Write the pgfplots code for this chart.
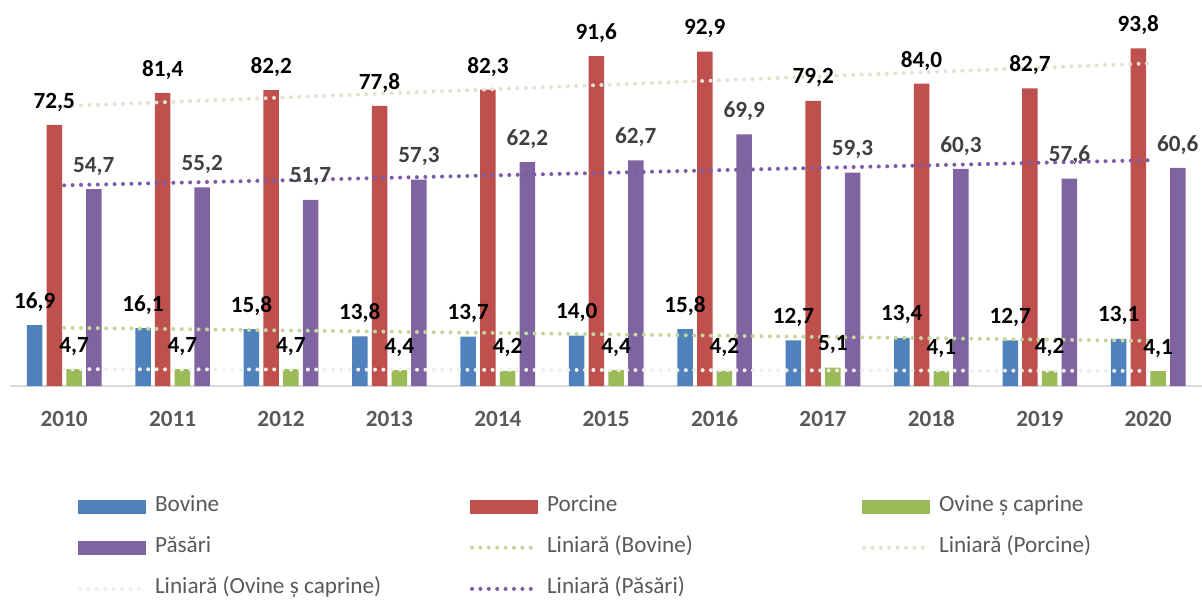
\documentclass[border=0pt]{standalone}
\usepackage{fontspec}
\setmainfont{Carlito}
\usepackage{pgfplots}
\pgfplotsset{compat=1.18}
\definecolor{cBov}{HTML}{4F81BD}
\definecolor{cPor}{HTML}{C0504D}
\definecolor{cOvi}{HTML}{9BBB59}
\definecolor{cPas}{HTML}{8064A2}
\definecolor{tBov}{HTML}{C3D69B}
\definecolor{tPor}{HTML}{E4E1D0}
\definecolor{tOvi}{HTML}{F0F0EA}
\definecolor{tPas}{HTML}{7A5CA8}
\definecolor{labgray}{HTML}{595959}
\definecolor{pasgray}{HTML}{404040}
\definecolor{axgray}{HTML}{D9D9D9}
\pgfplotsset{
  mybar/.style={ybar, draw=none, fill=#1, bar width=0.143,
    legend image code/.code={\fill[#1] (0pt,-3.5pt) rectangle (34pt,3.5pt);}},
  trend/.style={sharp plot, no marks, draw=#1, line width=2pt, line cap=round,
    dash pattern=on 0pt off 4.2pt,
    legend image code/.code={\draw[#1, line width=2pt, line cap=round, dash pattern=on 0pt off 4.2pt] (1pt,0pt) -- (34pt,0pt);}},
  lab/.style={nodes near coords,
    every node near coord/.append style={font=\bfseries, text=#1, anchor=center, yshift=11.5pt}},
}
\begin{document}
\fontsize{11.6}{14}\selectfont
\begin{tikzpicture}
\begin{axis}[
  scale only axis, width=596.2pt, height=189pt,
  xmin=-0.5, xmax=10.5, ymin=0, ymax=105,
  axis y line=none, axis x line*=bottom,
  x axis line style={draw=axgray, line width=1pt, -},
  xtick={0,1,2,3,4,5,6,7,8,9,10},
  xticklabels={2010,2011,2012,2013,2014,2015,2016,2017,2018,2019,2020},
  major tick length=0pt,
  xticklabel style={anchor=center, yshift=-16.5pt, font=\bfseries, text=labgray},
  clip=false,
  /pgf/number format/.cd, use comma, fixed, fixed zerofill, precision=1, assume math mode=true, /pgfplots/.cd,
  legend columns=3,
  legend cell align=left,
  legend style={at={(0,0)}, anchor=north west, xshift=34pt, yshift=-54.75pt,
    draw=none, fill=none, inner sep=0pt, outer sep=0pt, row sep=9.6pt,
    nodes={inner sep=0pt, anchor=west, text height=8pt, text depth=3pt, text=labgray},
    /tikz/every odd column/.append style={column sep=3.5pt}},
]
\addplot[mybar=cBov, bar shift=-14.78pt, lab=black,
  every node near coord/.append style={xshift=-14.78pt}]
  coordinates {(0,16.9) (1,16.1) (2,15.8) (3,13.8) (4,13.7) (5,14.0) (6,15.8) (7,12.7) (8,13.4) (9,12.7) (10,13.1)};
\addlegendentry{\makebox[157.5pt][l]{Bovine}}
\addplot[mybar=cPor, bar shift=-4.93pt, lab=black,
  every node near coord/.append style={xshift=-4.93pt}]
  coordinates {(0,72.5) (1,81.4) (2,82.2) (3,77.8) (4,82.3) (5,91.6) (6,92.9) (7,79.2) (8,84.0) (9,82.7) (10,93.8)};
\addlegendentry{\makebox[157.5pt][l]{Porcine}}
\addplot[mybar=cOvi, bar shift=4.93pt, lab=black,
  every node near coord/.append style={xshift=4.93pt}]
  coordinates {(0,4.7) (1,4.7) (2,4.7) (3,4.4) (4,4.2) (5,4.4) (6,4.2) (7,5.1) (8,4.1) (9,4.2) (10,4.1)};
\addlegendentry{\makebox[157.5pt][l]{Ovine ș caprine}}
\addplot[mybar=cPas, bar shift=14.78pt, lab=pasgray,
  every node near coord/.append style={xshift=14.78pt}]
  coordinates {(0,54.7) (1,55.2) (2,51.7) (3,57.3) (4,62.2) (5,62.7) (6,69.9) (7,59.3) (8,60.3) (9,57.6) (10,60.6)};
\addlegendentry{\makebox[157.5pt][l]{Păsări}}
\addplot[trend=tBov] coordinates {(0,16.177) (10,12.550)};
\addlegendentry{\makebox[157.5pt][l]{Liniară (Bovine)}}
\addplot[trend=tPor] coordinates {(0,77.741) (10,89.605)};
\addlegendentry{\makebox[157.5pt][l]{Liniară (Porcine)}}
\addplot[trend=tOvi] coordinates {(0,4.682) (10,4.191)};
\addlegendentry{\makebox[157.5pt][l]{Liniară (Ovine ș caprine)}}
\addplot[trend=tPas] coordinates {(0,55.745) (10,62.709)};
\addlegendentry{\makebox[157.5pt][l]{Liniară (Păsări)}}
\end{axis}
\pgfresetboundingbox
\path (current axis.south west) ++(-5pt,-106.5pt) rectangle ++(601pt,299.5pt);
\end{tikzpicture}
\end{document}
